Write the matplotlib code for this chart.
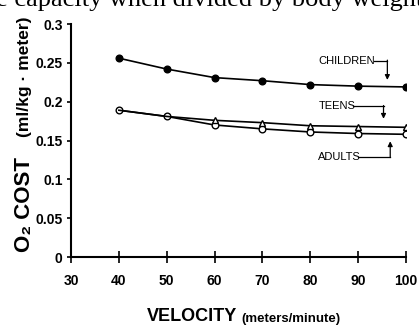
import matplotlib
matplotlib.use('Agg')
import matplotlib.pyplot as plt

# velocity (meters/minute)
velocity = [40, 50, 60, 70, 80, 90, 100]

# O2 cost (ml/kg . meter)
children = [0.256, 0.242, 0.231, 0.227, 0.222, 0.220, 0.219]
teens = [0.189, 0.181, 0.176, 0.173, 0.169, 0.168, 0.167]
adults = [0.189, 0.181, 0.170, 0.165, 0.161, 0.159, 0.158]

xticks = [30, 40, 50, 60, 70, 80, 90, 100]
yticks = [0, 0.05, 0.1, 0.15, 0.2, 0.25, 0.3]
ytick_labels = ['0', '0.05', '0.1', '0.15', '0.2', '0.25', '0.3']

sans = ['Liberation Sans', 'DejaVu Sans']

fig = plt.figure(figsize=(4.19, 3.29), dpi=100)
ax = fig.add_axes([0.1695, 0.2188, 0.7995, 0.7082])

ax.plot(velocity, children, color='black', lw=1.2, marker='o', ms=4.8,
        mfc='black', mec='black', zorder=3)
ax.plot(velocity, adults, color='black', lw=1.2, marker='o', ms=4.8,
        mfc='white', mec='black', zorder=3)
ax.plot(velocity, teens, color='black', lw=1.2, marker='^', ms=4.8,
        mfc='white', mec='black', markevery=[2, 3, 4, 5, 6], zorder=4)

ax.set_xlim(30, 100)
ax.set_ylim(0, 0.3)
ax.set_xticks(xticks)
ax.set_yticks(yticks)
ax.set_yticklabels(ytick_labels)
for lab in ax.get_xticklabels() + ax.get_yticklabels():
    lab.set_family(sans)
    lab.set_weight('bold')
    lab.set_fontsize(10)

ax.spines['top'].set_visible(False)
ax.spines['right'].set_visible(False)
ax.spines['left'].set_linewidth(1.5)
ax.spines['bottom'].set_linewidth(1.5)
ax.tick_params(axis='x', direction='inout', length=9, width=1.2, pad=8)
ax.tick_params(axis='y', direction='out', length=3, width=1.2, pad=3)

# group labels with arrows
lab_kw = dict(family=sans, fontsize=8, ha='left', va='center')
arr = dict(arrowstyle='-|>', color='black', lw=0.9, mutation_scale=7,
           shrinkA=0, shrinkB=0)
ax.text(81.7, 0.2528, 'CHILDREN', **lab_kw)
ax.plot([93.3, 96.1], [0.2528, 0.2528], color='black', lw=0.9)
ax.annotate('', xy=(96.1, 0.228), xytext=(96.1, 0.2535), arrowprops=arr)
ax.text(81.7, 0.1944, 'TEENS', **lab_kw)
ax.plot([89.0, 95.3], [0.1944, 0.1944], color='black', lw=0.9)
ax.annotate('', xy=(95.3, 0.178), xytext=(95.3, 0.1951), arrowprops=arr)
ax.text(81.7, 0.1288, 'ADULTS', **lab_kw)
ax.plot([90.0, 96.7], [0.1288, 0.1288], color='black', lw=0.9)
ax.annotate('', xy=(96.7, 0.149), xytext=(96.7, 0.1281), arrowprops=arr)

# axis titles
t = fig.text(147 / 419, 1 - 321 / 329, 'VELOCITY', family=sans,
             weight='bold', fontsize=13, ha='left', va='baseline')
ax.annotate('(meters/minute)', xy=(1, 0), xycoords=t, xytext=(3, 0),
            textcoords='offset points', family=sans, weight='bold',
            fontsize=9.5, ha='left', va='bottom')
fig.text(30 / 419, 1 - 252 / 329, 'O\u2082 COST', family=sans, weight='bold',
         fontsize=16, rotation=90, rotation_mode='anchor', ha='left',
         va='baseline')
fig.text(29 / 419, 1 - 137 / 329, '(ml/kg \u00b7 meter)', family=sans,
         weight='bold', fontsize=12.5, rotation=90, rotation_mode='anchor',
         ha='left', va='baseline')

# cropped caption line at the top of the page
fig.text(-0.01, 1 - 6 / 329, 'e capacity when divided by body weight',
         family=['Liberation Serif', 'DejaVu Serif'], fontsize=19,
         ha='left', va='baseline')

fig.savefig('out.png', dpi=100)
